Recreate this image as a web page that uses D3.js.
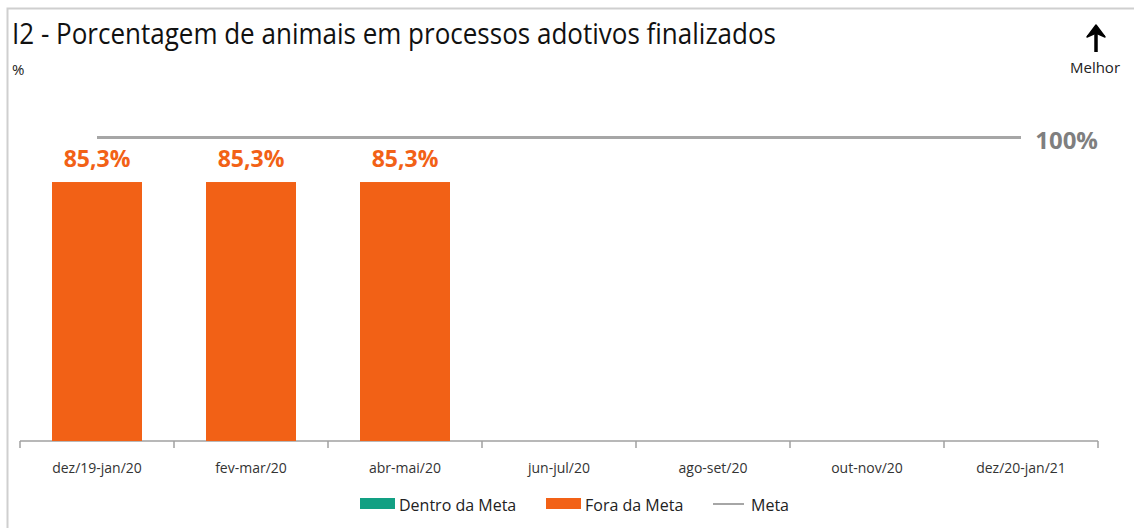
<!DOCTYPE html>
<html lang="pt">

<head>
  <meta charset="utf-8">
  <title>I2 - Porcentagem de animais</title>
  <script src="https://cdn.jsdelivr.net/npm/d3@7"></script>
  <style>
    body { margin: 0; background: #fff; }
    text { font-family: "Open Sans", "Noto Sans", sans-serif; }
  </style>
</head>

<body>
  <script>
    var categories = ["dez/19-jan/20", "fev-mar/20", "abr-mai/20", "jun-jul/20",
                      "ago-set/20", "out-nov/20", "dez/20-jan/21"];
    var values = [85.3, 85.3, 85.3, null, null, null, null];
    var meta = [100, 100, 100, 100, 100, 100, 100];
    var legendLabels = ["Dentro da Meta", "Fora da Meta", "Meta"];

    var w = 1134;
    var h = 528;
    var colors = { dentro: "#12a083", fora: "#f26116", meta: "#a6a6a6" };

    var svg = d3.select("body").append("svg")
                .attr("width", w)
                .attr("height", h);

    // outer frame
    svg.append("rect")
       .attr("x", 7.5).attr("y", 8.5)
       .attr("width", w + 20).attr("height", h + 20)
       .attr("fill", "none")
       .attr("stroke", "#cfcfcf")
       .attr("stroke-width", 2);

    var x = d3.scaleBand()
              .domain(categories)
              .range([20, 1098])
              .paddingInner(0.4156)
              .paddingOuter(0.2078);
    var y = d3.scaleLinear()
              .domain([0, 100])
              .range([441, 137.4]);

    // title
    var title = svg.append("text")
       .attr("x", 12).attr("y", 44)
       .attr("font-size", 29)
       .attr("fill", "#111")
       .text("I2 - Porcentagem de animais em processos adotivos finalizados");
    if (title.node().getComputedTextLength() > 764) {
      title.attr("textLength", 764).attr("lengthAdjust", "spacingAndGlyphs");
    }

    svg.append("text")
       .attr("x", 12).attr("y", 75)
       .attr("font-size", 15)
       .attr("fill", "#222")
       .text("%");

    // "Melhor" arrow
    svg.append("line")
       .attr("x1", 1096).attr("x2", 1096)
       .attr("y1", 33).attr("y2", 52)
       .attr("stroke", "#000").attr("stroke-width", 3.5);
    svg.append("path")
       .attr("d", "M1087,37 L1096,25 L1105,37 L1096,33 Z")
       .attr("fill", "#000")
       .attr("stroke", "#000").attr("stroke-width", 1.5)
       .attr("stroke-linejoin", "round");
    svg.append("text")
       .attr("x", 1095).attr("y", 73)
       .attr("text-anchor", "middle")
       .attr("font-size", 15)
       .attr("fill", "#222")
       .text("Melhor");

    // x axis
    var axisG = svg.append("g").attr("transform", "translate(0,441)");
    axisG.append("line")
         .attr("x1", x.range()[0]).attr("x2", x.range()[1])
         .attr("stroke", "#a0a0a0").attr("stroke-width", 1.5);
    var boundaries = categories.map(function (c) {
      return x(c) - x.step() * x.paddingOuter();
    });
    boundaries.push(x.range()[1]);
    axisG.selectAll(".tick")
         .data(boundaries)
         .enter().append("line")
         .attr("x1", function (d) { return d; })
         .attr("x2", function (d) { return d; })
         .attr("y1", 0).attr("y2", 7)
         .attr("stroke", "#a0a0a0").attr("stroke-width", 1.5);
    axisG.selectAll(".cat")
         .data(categories)
         .enter().append("text")
         .attr("x", function (d) { return x(d) + x.bandwidth() / 2; })
         .attr("y", 32)
         .attr("text-anchor", "middle")
         .attr("font-size", 14)
         .attr("fill", "#333")
         .text(function (d) { return d; });

    // bars
    var barData = categories.map(function (c, i) {
      return { cat: c, value: values[i], meta: meta[i] };
    }).filter(function (d) { return d.value !== null; });

    svg.selectAll(".bar")
       .data(barData)
       .enter().append("rect")
       .attr("x", function (d) { return x(d.cat); })
       .attr("y", function (d) { return y(d.value); })
       .attr("width", x.bandwidth())
       .attr("height", function (d) { return y(0) - y(d.value); })
       .attr("fill", function (d) {
         return d.value >= d.meta ? colors.dentro : colors.fora;
       });

    svg.selectAll(".barlabel")
       .data(barData)
       .enter().append("text")
       .attr("x", function (d) { return x(d.cat) + x.bandwidth() / 2; })
       .attr("y", function (d) { return y(d.value) - 15; })
       .attr("text-anchor", "middle")
       .attr("font-size", 23)
       .attr("font-weight", "bold")
       .attr("fill", function (d) {
         return d.value >= d.meta ? colors.dentro : colors.fora;
       })
       .text(function (d) { return d.value.toFixed(1).replace(".", ",") + "%"; });

    // meta line
    var metaLine = d3.line()
                     .x(function (d, i) { return x(categories[i]) + x.bandwidth() / 2; })
                     .y(function (d) { return y(d); });
    svg.append("path")
       .datum(meta)
       .attr("d", metaLine)
       .attr("fill", "none")
       .attr("stroke", colors.meta)
       .attr("stroke-width", 3);
    svg.append("text")
       .attr("x", 1098).attr("y", y(meta[meta.length - 1]) + 12)
       .attr("text-anchor", "end")
       .attr("font-size", 24)
       .attr("font-weight", "bold")
       .attr("fill", "#7f7f7f")
       .text(meta[meta.length - 1] + "%");

    // legend
    var legend = svg.append("g").attr("transform", "translate(0,511)");
    var legendX = [360, 546, 713];
    legend.append("rect").attr("x", legendX[0]).attr("y", -13)
          .attr("width", 35).attr("height", 11).attr("fill", colors.dentro);
    legend.append("rect").attr("x", legendX[1]).attr("y", -13)
          .attr("width", 35).attr("height", 11).attr("fill", colors.fora);
    legend.append("line").attr("x1", legendX[2]).attr("x2", legendX[2] + 31)
          .attr("y1", -7).attr("y2", -7)
          .attr("stroke", colors.meta).attr("stroke-width", 2);
    legend.selectAll(".leg")
          .data(legendLabels)
          .enter().append("text")
          .attr("x", function (d, i) { return legendX[i] + (i === 2 ? 38 : 39); })
          .attr("y", 0)
          .attr("font-size", 16)
          .attr("fill", "#222")
          .text(function (d) { return d; });
  </script>
</body>

</html>
